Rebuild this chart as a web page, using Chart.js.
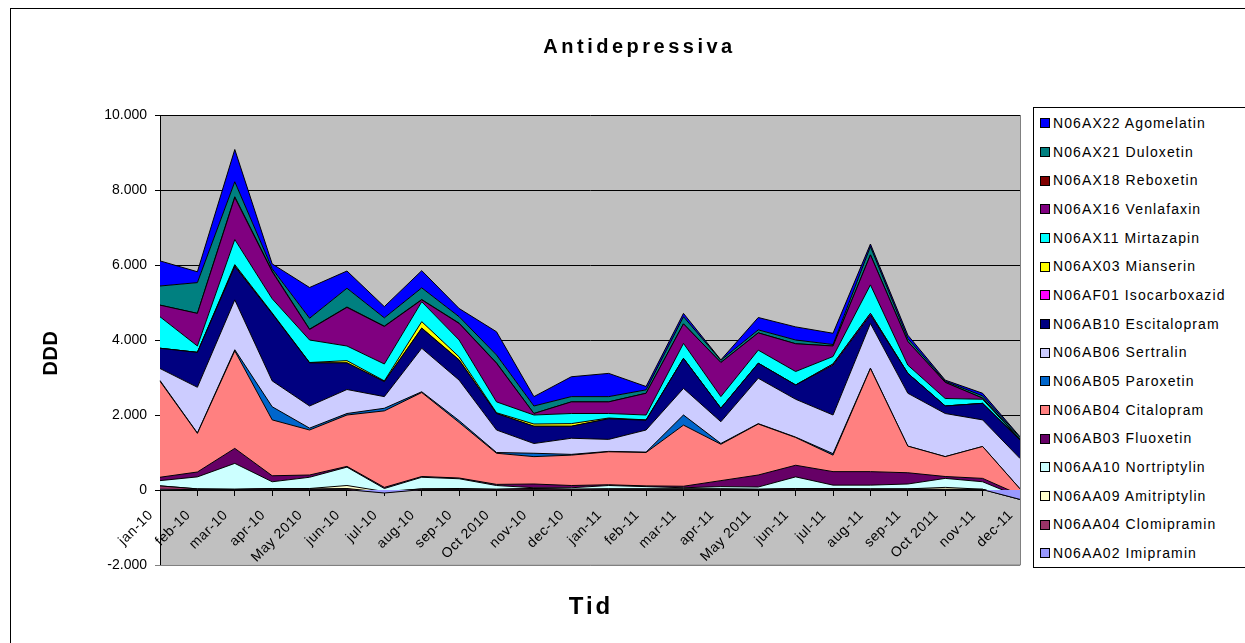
<!DOCTYPE html>
<html>
<head>
<meta charset="utf-8">
<script src="https://cdn.jsdelivr.net/npm/chart.js@4/dist/chart.umd.min.js"></script>
<style>
  html, body { margin:0; padding:0; background:#fff; overflow:hidden; width:1245px; height:643px; }
  #frame { position:absolute; left:10px; top:8px; width:1300px; height:700px; border:1px solid #000; box-sizing:border-box; }
  #wrap { position:absolute; left:0; top:0; width:1236px; height:643px; }
  #legend { position:absolute; left:1033px; top:107px; width:260px; height:461px; border:1px solid #000; background:#fff; box-sizing:border-box;
            font-family:"Liberation Sans", Arial, sans-serif; font-size:14px; color:#000; letter-spacing:1.1px; }
  .item { position:absolute; left:6px; height:20px; line-height:20px; white-space:nowrap; }
  .sw { display:inline-block; width:8px; height:8px; border:1px solid #000; vertical-align:middle; margin-right:3px; position:relative; top:-1px; }
</style>
</head>
<body>
<div id="frame"></div>
<div id="wrap"><canvas id="c" width="1236" height="643"></canvas></div>
<div id="legend"></div>
<script>
// ---- data ----
const categories = ['jan-10','feb-10','mar-10','apr-10','May 2010','jun-10','jul-10','aug-10','sep-10','Oct 2010','nov-10','dec-10',
                    'jan-11','feb-11','mar-11','apr-11','May 2011','jun-11','jul-11','aug-11','sep-11','Oct 2011','nov-11','dec-11'];

const imipramin     = [20,10,10,10,10,10,-80,10,10,0,10,0,10,10,10,10,10,10,10,10,10,10,10,-250];
const clomipramin   = [90,20,10,30,20,30,20,20,20,20,30,20,20,20,20,20,10,30,20,20,20,10,10,0];
const amitriptylin  = [0,0,0,0,10,80,20,0,10,0,0,0,0,0,0,0,0,0,10,0,0,50,0,0];
const nortriptylin  = [140,320,690,180,300,490,80,310,260,100,20,40,90,60,30,60,60,310,90,100,130,240,200,60];
const fluoxetin     = [90,130,400,160,60,20,30,20,20,30,100,60,20,20,40,160,320,310,360,360,300,50,90,60];
const citalopram    = [2560,1030,2600,1490,1200,1370,2040,2240,1480,830,730,810,880,890,1630,970,1360,740,440,2750,710,530,850,160];
const paroxetin     = [20,10,30,350,50,40,70,20,50,20,90,20,10,10,270,20,10,10,40,10,0,0,0,0];
const sertralin     = [320,1220,1330,690,590,640,310,1160,1080,600,260,430,320,590,710,580,1210,1010,1030,1190,1410,1150,710,810];
const escitalopram  = [540,930,890,1790,1150,710,400,530,530,440,460,320,550,260,800,360,400,380,1330,230,530,200,440,490];
const isocarboxazid = [0,0,20,0,0,0,0,10,10,0,0,0,0,0,0,0,0,0,30,40,0,0,0,0];
const mianserin     = [0,0,30,20,10,60,20,170,80,20,60,70,20,10,0,0,0,0,0,0,0,0,0,0];
const mirtazapin    = [840,170,670,380,600,390,450,530,450,290,240,270,120,130,400,310,350,360,200,760,220,200,110,10];
const venlafaxin    = [310,870,1120,720,280,1030,1000,50,440,1030,40,310,310,580,520,910,460,740,280,800,630,430,30,10];
const reboxetin     = [0,0,20,20,10,10,10,10,10,10,0,0,0,0,0,0,0,0,0,0,0,0,0,0];
const duloxetin     = [510,820,400,60,290,500,220,310,170,210,200,140,140,90,190,60,80,100,40,220,80,30,60,50];
const agomelatin    = [670,290,860,130,820,460,300,460,220,620,250,530,620,90,90,10,330,350,300,70,90,30,70,20];

const seriesNames = ['N06AA02 Imipramin','N06AA04 Clomipramin','N06AA09 Amitriptylin','N06AA10 Nortriptylin',
  'N06AB03 Fluoxetin','N06AB04 Citalopram','N06AB05 Paroxetin','N06AB06 Sertralin','N06AB10 Escitalopram',
  'N06AF01 Isocarboxazid','N06AX03 Mianserin','N06AX11 Mirtazapin','N06AX16 Venlafaxin','N06AX18 Reboxetin',
  'N06AX21 Duloxetin','N06AX22 Agomelatin'];
const seriesValues = [imipramin,clomipramin,amitriptylin,nortriptylin,fluoxetin,citalopram,paroxetin,sertralin,
  escitalopram,isocarboxazid,mianserin,mirtazapin,venlafaxin,reboxetin,duloxetin,agomelatin];
const seriesColors = ['#9999FF','#993366','#FFFFCC','#CCFFFF','#660066','#FF8080','#0066CC','#CCCCFF','#000080',
  '#FF00FF','#FFFF00','#00FFFF','#800080','#800000','#008080','#0000FF'];

// ---- chart ----
const FONT = '"Liberation Sans", Arial, sans-serif';
Chart.defaults.font.family = FONT;
Chart.defaults.color = '#000';

const datasets = seriesValues.map((vals, i) => ({
  label: seriesNames[i],
  data: vals,
  backgroundColor: seriesColors[i],
  borderColor: '#000',
  borderWidth: 1,
  pointRadius: 0,
  pointHoverRadius: 0,
  tension: 0,
  fill: i === 0 ? 'origin' : '-1'
}));

const plotBg = {
  id: 'plotBg',
  beforeDraw(chart) {
    const {ctx, chartArea: a} = chart;
    ctx.save();
    ctx.fillStyle = '#C0C0C0';
    ctx.fillRect(a.left, a.top, a.right - a.left, a.bottom - a.top);
    ctx.restore();
  },
  afterDraw(chart) {
    const {ctx, chartArea: a} = chart;
    ctx.save();
    ctx.strokeStyle = '#808080';
    ctx.lineWidth = 1;
    ctx.beginPath();
    ctx.moveTo(Math.round(a.right) + 0.5, a.top);
    ctx.lineTo(Math.round(a.right) + 0.5, a.bottom);
    ctx.lineTo(a.left, a.bottom + 0.5);
    ctx.stroke();
    ctx.restore();
  }
};

// letter spacing / small offsets for library-drawn texts (Excel-like rendering)
const textTweaks = {
  id: 'textTweaks',
  afterLayout(chart) {
    const ctx = chart.ctx;
    const wrap = (obj, fn, spacing, dx, dy) => {
      if (!obj || obj['_w_' + fn]) return;
      const orig = obj[fn].bind(obj);
      obj[fn] = function(...args) {
        ctx.save();
        if ('letterSpacing' in ctx) ctx.letterSpacing = spacing + 'px';
        ctx.translate(dx, dy);
        orig(...args);
        ctx.restore();
      };
      obj['_w_' + fn] = true;
    };
    wrap(chart.titleBlock, 'draw', 3.5, 2, 0);
    wrap(chart.scales.y, 'drawTitle', 0.5, 0, 13);
    wrap(chart.scales.x, 'drawTitle', 3, 1, 0);
    wrap(chart.scales.x, 'drawLabels', 0.6, 0, 0);
  }
};

const fmt = v => (v < 0 ? '-' : '') + Math.abs(v).toString().replace(/\B(?=(\d{3})+(?!\d))/g, '.');

new Chart(document.getElementById('c'), {
  type: 'line',
  data: { labels: categories, datasets },
  options: {
    responsive: false,
    animation: false,
    devicePixelRatio: 1,
    layout: { padding: { left: 39, top: 0, right: 0, bottom: 78 } },
    plugins: {
      legend: { display: false },
      tooltip: { enabled: false },
      title: {
        display: true, text: 'Antidepressiva', color: '#000',
        font: { family: FONT, size: 20, weight: 'bold', lineHeight: 1.2 },
        padding: { top: 35, bottom: 56 }
      }
    },
    scales: {
      x: {
        position: { y: 0 },
        grid: { display: true, drawOnChartArea: false, drawTicks: true, tickLength: 5, color: '#000' },
        border: { display: true, color: '#000' },
        ticks: { maxRotation: 45, minRotation: 45, autoSkip: false, font: { size: 14 }, padding: 12, labelOffset: -9, color: '#000' },
        title: { display: true, text: 'Tid', color: '#000', font: { size: 24, weight: 'bold' }, padding: { top: 19, bottom: 0 } }
      },
      y: {
        stacked: 'single',
        min: -2000, max: 10000,
        ticks: { stepSize: 2000, padding: 8, font: { size: 14 }, color: '#000', callback: v => fmt(v) },
        grid: { color: c => (c.tick && c.tick.value === -2000) ? '#808080' : '#000', tickLength: 5, lineWidth: 1 },
        border: { color: '#000' },
        title: { display: true, text: 'DDD', color: '#000', font: { size: 20, weight: 'bold' }, padding: 0 },
        afterFit: s => { s.width = 121; }
      },
      yR: {
        position: 'right', display: true,
        grid: { display: false }, border: { display: false }, ticks: { display: false },
        afterFit: s => { s.width = 216; }
      }
    }
  },
  plugins: [plotBg, textTweaks]
});

// ---- legend (HTML, built from the same arrays) ----
const leg = document.getElementById('legend');
const order = seriesNames.map((_, i) => i).reverse();
order.forEach((idx, k) => {
  const d = document.createElement('div');
  d.className = 'item';
  d.style.top = (5 + k * 28.67) + 'px';
  const sw = document.createElement('span');
  sw.className = 'sw';
  sw.style.background = seriesColors[idx];
  d.appendChild(sw);
  d.appendChild(document.createTextNode(seriesNames[idx]));
  leg.appendChild(d);
});
</script>
</body>
</html>
